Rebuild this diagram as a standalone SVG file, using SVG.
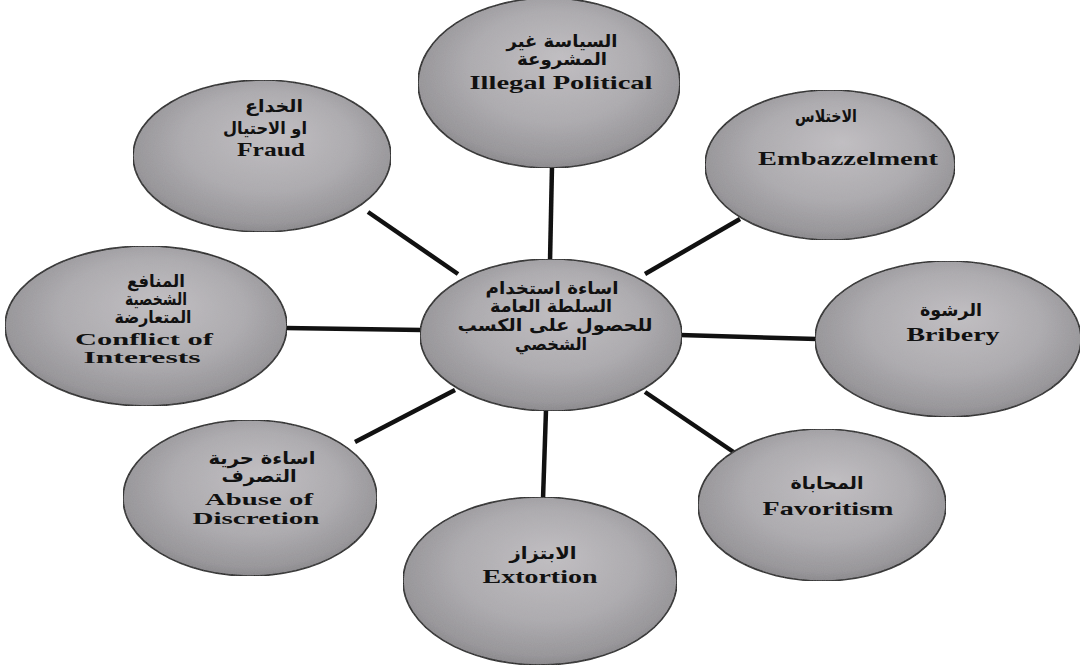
<svg xmlns="http://www.w3.org/2000/svg" width="1080" height="666" viewBox="0 0 1080 666">
<defs>
<radialGradient id="g" cx="0.5" cy="0.45" r="0.6" fx="0.55" fy="0.35">
<stop offset="0" stop-color="#c2bfc3"/>
<stop offset="0.55" stop-color="#acaaae"/>
<stop offset="0.85" stop-color="#959397"/>
<stop offset="1" stop-color="#79777b"/>
</radialGradient>
<filter id="tex" x="0" y="0" width="1" height="1">
<feTurbulence type="fractalNoise" baseFrequency="0.9" numOctaves="1" seed="3" result="n"/>
<feColorMatrix in="n" type="matrix" values="0 0 0 0 0.5  0 0 0 0 0.5  0 0 0 0 0.5  0 0 0 0.18 0" result="m"/>
<feComposite in="m" in2="SourceGraphic" operator="in" result="c"/>
<feMerge><feMergeNode in="SourceGraphic"/><feMergeNode in="c"/></feMerge>
</filter>
</defs>
<style>
.n{fill:url(#g);stroke:#111;stroke-width:1.6;filter:url(#tex)}
.c{stroke:#111;stroke-width:4.5;stroke-linecap:butt;fill:none}
.en{font-family:"Liberation Serif","Times New Roman",serif;font-weight:bold;font-size:19px;fill:#111;text-anchor:middle}
.en2{font-size:17.5px}
.ar{font-family:"DejaVu Sans","Noto Sans",sans-serif;font-weight:bold;font-size:17px;fill:#111;text-anchor:middle}
</style>
<rect width="1080" height="666" fill="#ffffff"/>
<g id="connectors">
<line class="c" x1="552" y1="166" x2="550" y2="262"/>
<line class="c" x1="368" y1="212" x2="458" y2="274"/>
<line class="c" x1="740" y1="219" x2="645" y2="274"/>
<line class="c" x1="285" y1="328" x2="422" y2="330"/>
<line class="c" x1="680" y1="335" x2="817" y2="339"/>
<line class="c" x1="355" y1="442" x2="455" y2="390"/>
<line class="c" x1="645" y1="392" x2="735" y2="453"/>
<line class="c" x1="546" y1="410" x2="543" y2="499"/>
</g>
<g id="illegal-political">
<ellipse class="n" cx="549" cy="83" rx="131" ry="85"/>
<text class="ar" x="562" y="47" textLength="111" lengthAdjust="spacingAndGlyphs">السياسة غير</text>
<text class="ar" x="562" y="65" textLength="90" lengthAdjust="spacingAndGlyphs">المشروعة</text>
<text class="en" x="561" y="89" textLength="183" lengthAdjust="spacingAndGlyphs">Illegal Political</text>
</g>
<g id="fraud">
<ellipse class="n" cx="262" cy="156" rx="129" ry="76"/>
<text class="ar" x="274" y="112" textLength="58" lengthAdjust="spacingAndGlyphs">الخداع</text>
<text class="ar" x="265" y="134" textLength="84" lengthAdjust="spacingAndGlyphs">او الاحتيال</text>
<text class="en" x="271" y="156" textLength="68" lengthAdjust="spacingAndGlyphs">Fraud</text>
</g>
<g id="embezzlement">
<ellipse class="n" cx="830" cy="165" rx="125" ry="75"/>
<text class="ar" x="826" y="122" textLength="62" lengthAdjust="spacingAndGlyphs">الاختلاس</text>
<text class="en" x="848" y="165" textLength="180" lengthAdjust="spacingAndGlyphs">Embazzelment</text>
</g>
<g id="conflict-of-interests">
<ellipse class="n" cx="146" cy="326" rx="141" ry="80"/>
<text class="ar" x="156" y="287" textLength="58" lengthAdjust="spacingAndGlyphs">المنافع</text>
<text class="ar" x="156" y="305" textLength="62" lengthAdjust="spacingAndGlyphs">الشخصية</text>
<text class="ar" x="153" y="323" textLength="77" lengthAdjust="spacingAndGlyphs">المتعارضة</text>
<text class="en en2" x="144" y="345" textLength="138" lengthAdjust="spacingAndGlyphs">Conflict of</text>
<text class="en en2" x="142" y="363" textLength="117" lengthAdjust="spacingAndGlyphs">Interests</text>
</g>
<g id="center">
<ellipse class="n" cx="551" cy="335" rx="131" ry="76"/>
<text class="ar" x="552" y="294" textLength="133" lengthAdjust="spacingAndGlyphs">اساءة استخدام</text>
<text class="ar" x="551" y="312" textLength="122" lengthAdjust="spacingAndGlyphs">السلطة العامة</text>
<text class="ar" x="555" y="331" textLength="195" lengthAdjust="spacingAndGlyphs">للحصول على الكسب</text>
<text class="ar" x="551" y="350" textLength="72" lengthAdjust="spacingAndGlyphs">الشخصي</text>
</g>
<g id="bribery">
<ellipse class="n" cx="948" cy="339" rx="133" ry="78"/>
<text class="ar" x="951" y="316" textLength="62" lengthAdjust="spacingAndGlyphs">الرشوة</text>
<text class="en" x="953" y="341" textLength="93" lengthAdjust="spacingAndGlyphs">Bribery</text>
</g>
<g id="abuse-of-discretion">
<ellipse class="n" cx="250" cy="498" rx="127" ry="78"/>
<text class="ar" x="262" y="464" textLength="107" lengthAdjust="spacingAndGlyphs">اساءة حرية</text>
<text class="ar" x="259" y="482" textLength="75" lengthAdjust="spacingAndGlyphs">التصرف</text>
<text class="en en2" x="259" y="505" textLength="108" lengthAdjust="spacingAndGlyphs">Abuse of</text>
<text class="en en2" x="256" y="524" textLength="127" lengthAdjust="spacingAndGlyphs">Discretion</text>
</g>
<g id="favoritism">
<ellipse class="n" cx="822" cy="505" rx="124" ry="76"/>
<text class="ar" x="827" y="489" textLength="73" lengthAdjust="spacingAndGlyphs">المحاباة</text>
<text class="en" x="828" y="515" textLength="131" lengthAdjust="spacingAndGlyphs">Favoritism</text>
</g>
<g id="extortion">
<ellipse class="n" cx="540" cy="581" rx="137" ry="84"/>
<text class="ar" x="543" y="559" textLength="67" lengthAdjust="spacingAndGlyphs">الابتزاز</text>
<text class="en" x="540" y="583" textLength="115" lengthAdjust="spacingAndGlyphs">Extortion</text>
</g>
</svg>
